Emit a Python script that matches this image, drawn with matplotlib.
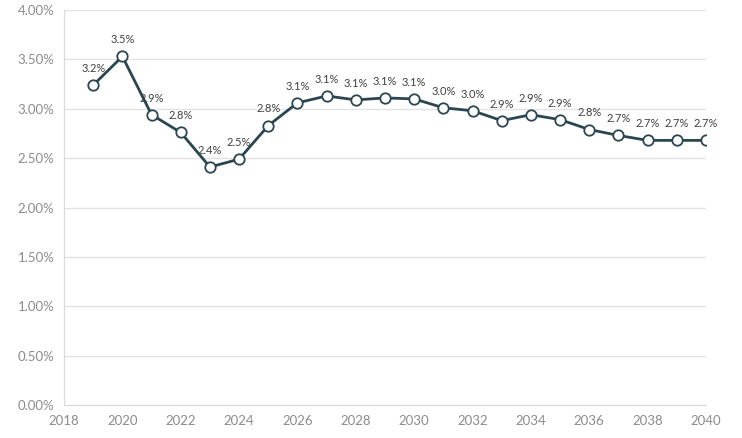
import matplotlib.pyplot as plt
from matplotlib.ticker import FuncFormatter, MultipleLocator

years = list(range(2019, 2041))
rates = [3.24, 3.53, 2.94, 2.76, 2.41, 2.49, 2.83, 3.06, 3.13, 3.09, 3.11,
         3.10, 3.01, 2.98, 2.88, 2.94, 2.89, 2.79, 2.73, 2.68, 2.68, 2.68]

plt.rcParams['font.family'] = ['Lato', 'DejaVu Sans']

fig = plt.figure(figsize=(7.42, 4.38), dpi=100)
ax = fig.add_axes([0.0863, 0.0753, 0.8652, 0.9018])

ax.plot(years, rates, color='#2b4650', lw=2.0, marker='o', markersize=7.5,
        markerfacecolor='white', markeredgecolor='#2b4650', markeredgewidth=1.3,
        zorder=3)

for x, y in zip(years, rates):
    ax.annotate(f'{y:.1f}%', (x, y), xytext=(0, 8), textcoords='offset points',
                ha='center', va='bottom', fontsize=8, color='#404040')

ax.set_xlim(2018, 2040)
ax.set_ylim(0, 4)
ax.xaxis.set_major_locator(MultipleLocator(2))
ax.yaxis.set_major_locator(MultipleLocator(0.5))
ax.yaxis.set_major_formatter(FuncFormatter(lambda v, p: f'{v:.2f}%'))
ax.grid(axis='y', color='#e3e3e3', lw=1)
ax.set_axisbelow(True)
ax.tick_params(length=0, labelsize=9.5, colors='#8c8c8c', pad=7)
for s in ['top', 'right']:
    ax.spines[s].set_visible(False)
for s in ['left', 'bottom']:
    ax.spines[s].set_color('#d9d9d9')

fig.savefig('out.png', dpi=100)
